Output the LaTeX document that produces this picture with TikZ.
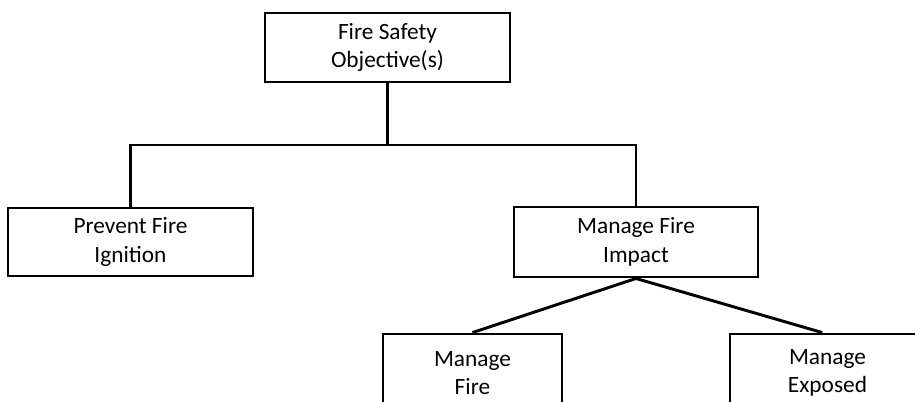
\documentclass[tikz,border=0pt]{standalone}
\usepackage{fontspec}
\setmainfont{Carlito}
\begin{document}
\begin{tikzpicture}[x=0.75pt,y=-0.75pt,
  box/.style={draw=black,line width=2.2pt,fill=white,align=center,inner sep=0pt,
    font=\fontsize{17.5pt}{21.5pt}\selectfont},
  link/.style={draw=black,line width=2.2pt}]
\useasboundingbox (0,0) rectangle (915,401);
\fill[white] (0,0) rectangle (915,401);
\clip (0,0) rectangle (915,401);
\node[box,minimum width=183.75pt,minimum height=51.75pt] (top) at (387.5,47.5) {Fire Safety\\Objective(s)};
\node[box,minimum width=183.75pt,minimum height=51pt] (left) at (130.5,242) {Prevent Fire\\Ignition};
\node[box,minimum width=183pt,minimum height=52.5pt] (impact) at (636,242) {Manage Fire\\Impact};
\node[box,minimum width=134.25pt,minimum height=58.5pt] (bl) at (472.5,373) {Manage\\Fire};
\node[box,minimum width=146.25pt,minimum height=58.5pt] (br) at (827.5,373) {Manage\\Exposed};
\coordinate (bus) at (387.5,145);
\draw[link] (top.south) -- (bus);
\draw[link] (left.north) |- (bus) -| (impact.north);
\draw[link] (impact.south) -- (bl.north);
\draw[link] (impact.south) -- ([xshift=-4pt]br.north);
\end{tikzpicture}
\end{document}
